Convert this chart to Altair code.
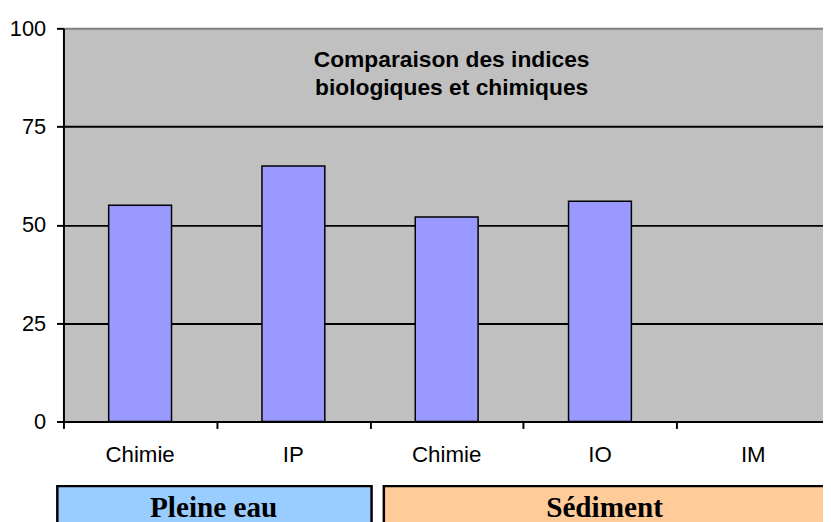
import altair as alt
import pandas as pd

# ---- data ----
categories = ["Chimie", "IP", "Chimie", "IO", "IM"]
values = [55, 65, 52, 56, None]
groups = ["Pleine eau", "Sédiment"]
group_first = [0, 2]
group_last = [1, 4]
group_colors = ["#99CCFF", "#FFCC99"]
title_lines = ["Comparaison des indices", "biologiques et chimiques"]
y_ticks = [0, 25, 50, 75, 100]

# ---- layout / style constants ----
BAR_PAD = 0.295
PLOT_W, PLOT_H = 767, 397
SANS = "Liberation Sans"
SERIF = "Liberation Serif"

bars = pd.DataFrame({"idx": list(range(len(categories))), "cat": categories, "value": values})
bars["x0"] = bars["idx"] + BAR_PAD
bars["x1"] = bars["idx"] + 1 - BAR_PAD
bars["xc"] = bars["idx"] + 0.5

grp = pd.DataFrame({"group": groups, "first": group_first, "last": group_last, "color": group_colors})
left_off = [-0.04, 0.09]
grp["bx0"] = grp["first"] + pd.Series(left_off)
grp["bx1"] = grp["last"] + 1.01
grp["bc"] = (grp["bx0"] + grp["last"] + 1 - pd.Series([0.0, 0.03])) / 2

title_df = pd.DataFrame({"text": ["\n".join(title_lines)]})

x_scale = alt.Scale(domain=[0, 4.955], nice=False, zero=False)
y_scale = alt.Scale(domain=[0, 100], nice=False, zero=False)

bar_layer = alt.Chart(bars).transform_filter("isValid(datum.value)").mark_bar(
    color="#9999FF", stroke="black", strokeWidth=1.5
).encode(
    x=alt.X("x0:Q", scale=x_scale, axis=alt.Axis(
        values=[0, 1, 2, 3, 4], labels=False, title=None, grid=False,
        tickSize=7, tickWidth=2, tickColor="black",
        domainColor="black", domainWidth=2)),
    x2="x1:Q",
    y=alt.Y("value:Q", scale=y_scale, axis=alt.Axis(
        values=y_ticks, title=None, grid=True,
        gridColor={"condition": {"test": "datum.value == 100", "value": "#808080"}, "value": "black"},
        gridWidth=2, tickSize=7, tickWidth=2, tickColor="black",
        domainColor="black", domainWidth=2,
        labelFont=SANS, labelFontSize=22, labelColor="black", labelPadding=11)),
    y2=alt.Y2Datum(0),
)

xlabels = alt.Chart(bars).mark_text(
    font=SANS, fontSize=22.5, color="black", baseline="alphabetic", align="center", dy=41
).encode(
    x=alt.X("xc:Q", scale=x_scale),
    y=alt.YDatum(0, scale=y_scale),
    text="cat:N",
)

title_layer = alt.Chart(title_df).mark_text(
    font=SANS, fontSize=23, fontWeight="bold", color="black", lineBreak="\n",
    lineHeight=28, baseline="alphabetic", align="center", dx=5
).encode(
    x=alt.XDatum(2.5, scale=x_scale),
    y=alt.YDatum(90.2, scale=y_scale),
    text="text:N",
)

boxes = alt.Chart(grp).mark_rect(stroke="black", strokeWidth=2.5).encode(
    x=alt.X("bx0:Q", scale=x_scale),
    x2="bx1:Q",
    y=alt.YDatum(-16.45, scale=y_scale),
    y2=alt.Y2Datum(-40),
    fill=alt.Color("color:N", scale=None),
)

box_text = alt.Chart(grp).mark_text(
    font=SERIF, fontSize=29.5, fontWeight="bold", color="black",
    baseline="alphabetic", align="center", dy=31
).encode(
    x=alt.X("bc:Q", scale=x_scale),
    y=alt.YDatum(-16.45, scale=y_scale),
    text="group:N",
)

chart = alt.layer(bar_layer, xlabels, title_layer, boxes, box_text).properties(
    width=PLOT_W, height=PLOT_H,
    padding={"left": 56, "top": 18, "right": 0, "bottom": 99},
    autosize=alt.AutoSizeParams(type="none"),
    background="white",
).configure_view(fill="#C0C0C0", stroke=None)

chart.save("out.html", embed_options={"renderer": "svg", "actions": False})
